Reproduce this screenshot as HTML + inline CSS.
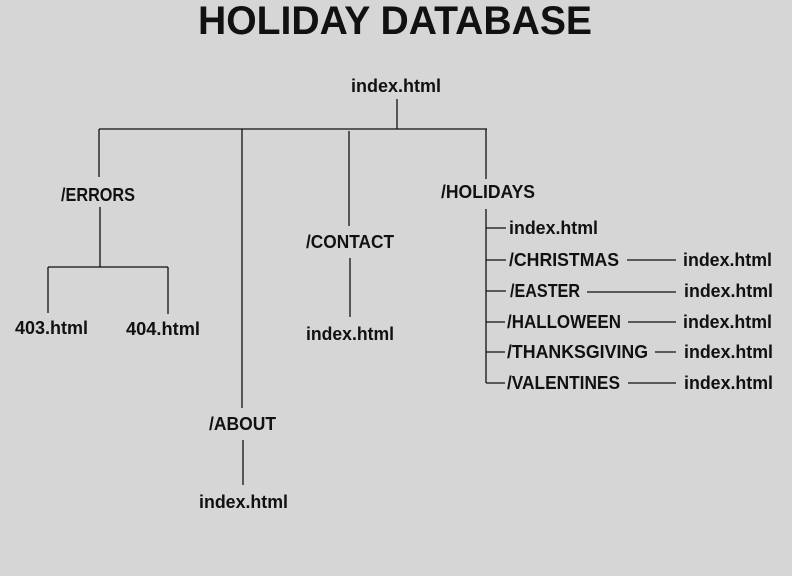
<!DOCTYPE html>
<html><head><meta charset="utf-8"><style>
html,body{margin:0;padding:0;background:#d6d6d6;}
svg{display:block;}
text{font-family:"Liberation Sans",sans-serif;font-weight:bold;fill:#111;font-size:18px;}
</style></head><body>
<svg width="792" height="576" viewBox="0 0 792 576" xmlns="http://www.w3.org/2000/svg">
<rect width="792" height="576" fill="#d6d6d6"/>
<text x="198" y="34" style="font-size:40px" textLength="394" lengthAdjust="spacingAndGlyphs">HOLIDAY DATABASE</text>
<g stroke="#111" stroke-width="1.3" fill="none">
<line x1="397" y1="99" x2="397" y2="129"/>
<line x1="99" y1="129" x2="487" y2="129"/>
<line x1="99" y1="129" x2="99" y2="177"/>
<line x1="242" y1="129" x2="242" y2="408"/>
<line x1="349" y1="131" x2="349" y2="226"/>
<line x1="486" y1="129" x2="486" y2="179"/>
<line x1="100" y1="207" x2="100" y2="267"/>
<line x1="48" y1="267" x2="168" y2="267"/>
<line x1="48" y1="267" x2="48" y2="313"/>
<line x1="168" y1="267" x2="168" y2="314"/>
<line x1="350" y1="258" x2="350" y2="317"/>
<line x1="243" y1="440" x2="243" y2="485"/>
<line x1="486" y1="209" x2="486" y2="383"/>
<line x1="486" y1="228" x2="506" y2="228"/>
<line x1="486" y1="260" x2="506" y2="260"/>
<line x1="486" y1="291" x2="506" y2="291"/>
<line x1="486" y1="322" x2="505" y2="322"/>
<line x1="486" y1="352" x2="505" y2="352"/>
<line x1="486" y1="383" x2="505" y2="383"/>
<line x1="627" y1="260" x2="676" y2="260"/>
<line x1="587" y1="292" x2="676" y2="292"/>
<line x1="628" y1="322" x2="676" y2="322"/>
<line x1="655" y1="352" x2="676" y2="352"/>
<line x1="628" y1="383" x2="676" y2="383"/>
</g>
<text x="351" y="92" textLength="90" lengthAdjust="spacingAndGlyphs">index.html</text>
<text x="61" y="201" textLength="74" lengthAdjust="spacingAndGlyphs">/ERRORS</text>
<text x="15" y="334" textLength="73" lengthAdjust="spacingAndGlyphs">403.html</text>
<text x="126" y="335" textLength="74" lengthAdjust="spacingAndGlyphs">404.html</text>
<text x="306" y="248" textLength="88" lengthAdjust="spacingAndGlyphs">/CONTACT</text>
<text x="306" y="340" textLength="88" lengthAdjust="spacingAndGlyphs">index.html</text>
<text x="441" y="198" textLength="94" lengthAdjust="spacingAndGlyphs">/HOLIDAYS</text>
<text x="209" y="430" textLength="67" lengthAdjust="spacingAndGlyphs">/ABOUT</text>
<text x="199" y="508" textLength="89" lengthAdjust="spacingAndGlyphs">index.html</text>
<text x="509" y="234" textLength="89" lengthAdjust="spacingAndGlyphs">index.html</text>
<text x="509" y="266" textLength="110" lengthAdjust="spacingAndGlyphs">/CHRISTMAS</text>
<text x="510" y="297" textLength="70" lengthAdjust="spacingAndGlyphs">/EASTER</text>
<text x="507" y="328" textLength="114" lengthAdjust="spacingAndGlyphs">/HALLOWEEN</text>
<text x="507" y="358" textLength="141" lengthAdjust="spacingAndGlyphs">/THANKSGIVING</text>
<text x="507" y="389" textLength="113" lengthAdjust="spacingAndGlyphs">/VALENTINES</text>
<text x="683" y="266" textLength="89" lengthAdjust="spacingAndGlyphs">index.html</text>
<text x="684" y="297" textLength="89" lengthAdjust="spacingAndGlyphs">index.html</text>
<text x="683" y="328" textLength="89" lengthAdjust="spacingAndGlyphs">index.html</text>
<text x="684" y="358" textLength="89" lengthAdjust="spacingAndGlyphs">index.html</text>
<text x="684" y="389" textLength="89" lengthAdjust="spacingAndGlyphs">index.html</text>
</svg>
</body></html>
